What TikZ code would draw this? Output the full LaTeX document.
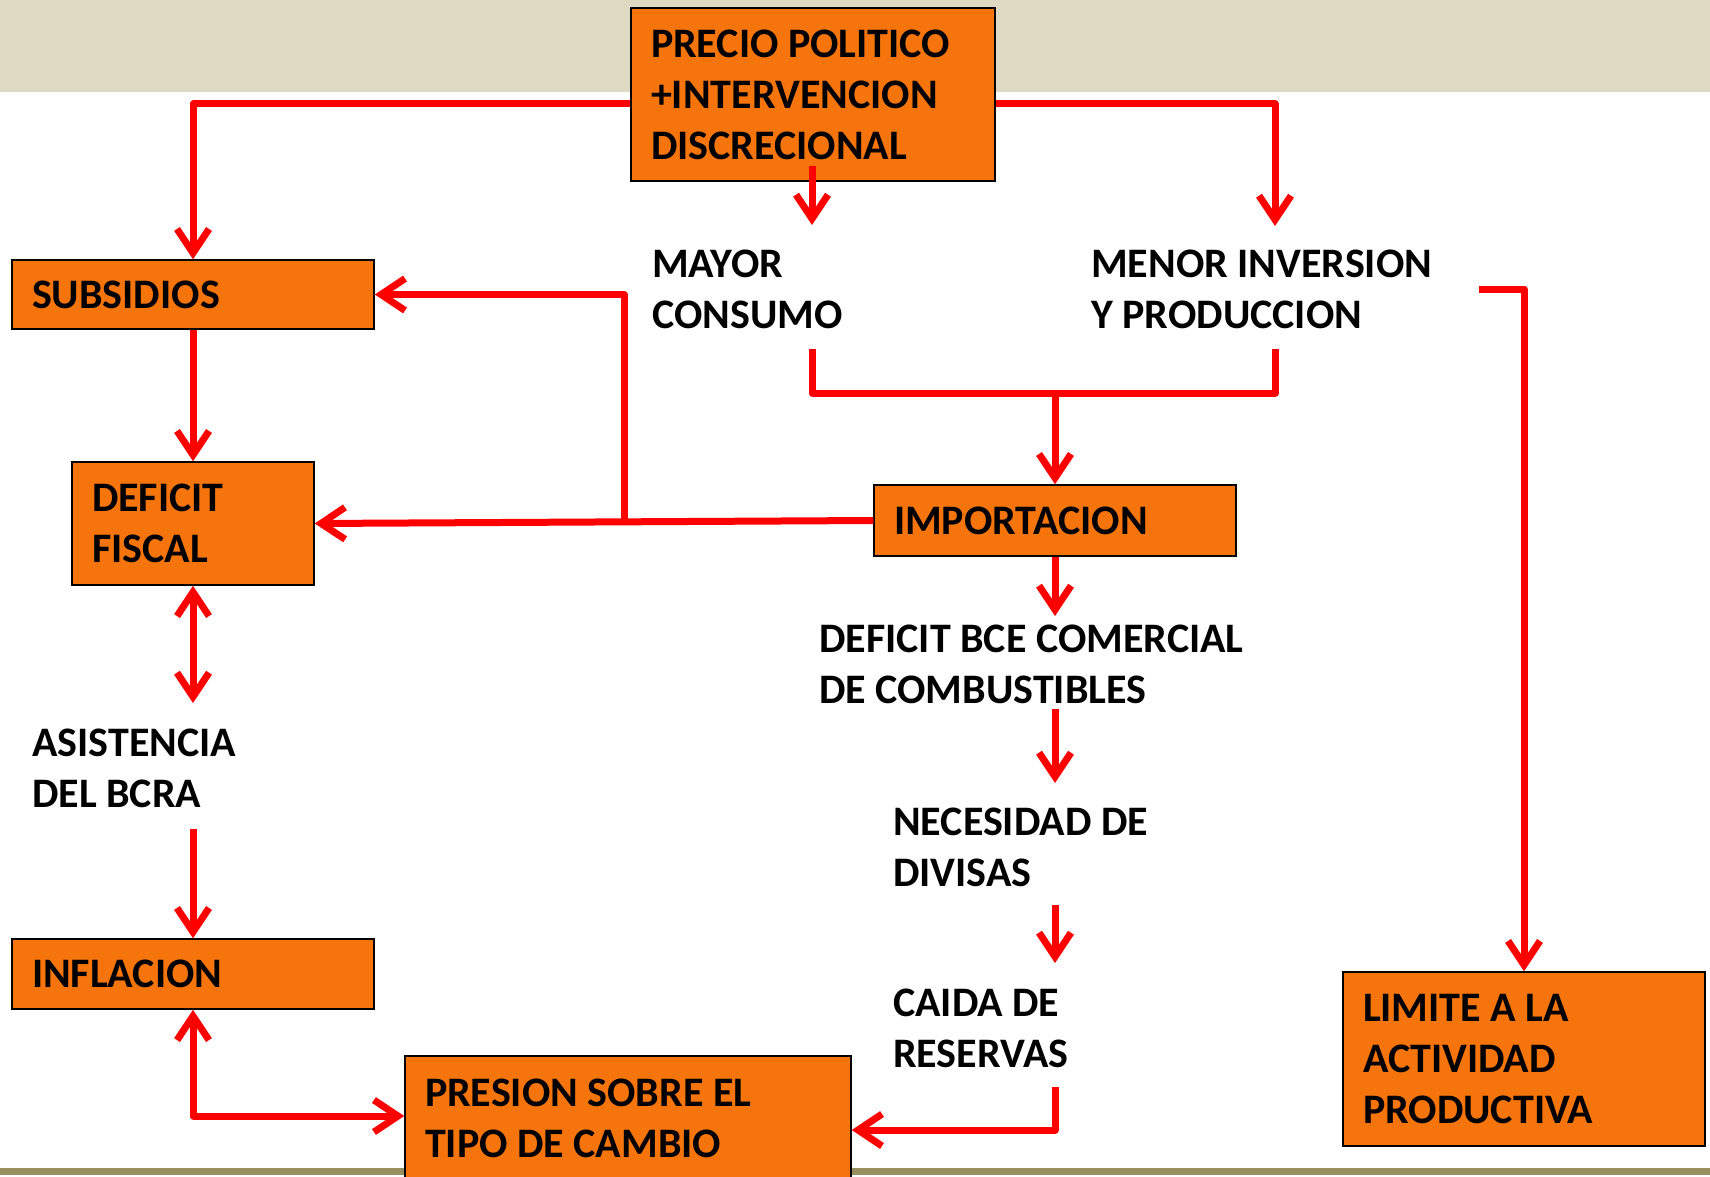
\documentclass[tikz,border=0pt]{standalone}
\usepackage{fontspec}
\setmainfont{Carlito}
\usetikzlibrary{arrows.meta}
\definecolor{boxorange}{RGB}{245,117,12}
\definecolor{bandbeige}{RGB}{221,217,195}
\definecolor{olive}{RGB}{152,144,96}
\definecolor{arrred}{RGB}{255,0,0}
\tikzset{
  box/.style={draw=black, line width=1.5pt, fill=boxorange, inner xsep=20pt, inner ysep=0pt,
    align=flush left, font=\fontsize{42}{51}\selectfont\bfseries},
  lbl/.style={inner sep=0pt, align=flush left, anchor=base west, font=\fontsize{42}{51}\selectfont\bfseries},
  conn/.style={draw=arrred, line width=7pt, line join=round},
  arr/.style={conn, -{Straight Barb[length=24pt,width=32pt]}},
  arrtwo/.style={conn, {Straight Barb[length=24pt,width=32pt]}-{Straight Barb[length=24pt,width=32pt]}}
}
\begin{document}
\begin{tikzpicture}[x=1pt,y=-1pt]
\useasboundingbox (0,0) rectangle (1710,1177);
\fill[white] (0,0) rectangle (1710,1177);
\fill[bandbeige] (0,0) rectangle (1710,92);
\fill[olive] (0,1168) rectangle (1710,1175);

% boxes
\node[box, text width=324pt, minimum height=173pt] (precio) at (813,94.5) {PRECIO POLITICO\\+INTERVENCION\\DISCRECIONAL};
\node[box, text width=322pt, minimum height=69pt] (subs) at (193,294.5) {SUBSIDIOS};
\node[box, text width=202pt, minimum height=123pt] (deficit) at (193,523.5) {DEFICIT\\FISCAL};
\node[box, text width=322pt, minimum height=71pt] (import) at (1055,520.5) {IMPORTACION};
\node[box, text width=322pt, minimum height=70pt] (infl) at (193,974) {INFLACION};
\node[box, text width=406pt, minimum height=124pt] (presion) at (628,1118) {PRESION SOBRE EL\\TIPO DE CAMBIO};
\node[box, text width=322pt, minimum height=174pt] (limite) at (1524,1059) {LIMITE A LA\\ACTIVIDAD\\PRODUCTIVA};

% plain labels (anchored at the baseline of their last line)
\node[lbl] (mayor) at (652,328) {MAYOR\\CONSUMO};
\node[lbl] (menor) at (1091,328) {MENOR INVERSION\\Y PRODUCCION};
\node[lbl] (bce) at (819,703) {DEFICIT BCE COMERCIAL\\DE COMBUSTIBLES};
\node[lbl] (neces) at (893,886) {NECESIDAD DE\\DIVISAS};
\node[lbl] (caida) at (893,1067) {CAIDA DE\\RESERVAS};
\node[lbl] (asist) at (32,807) {ASISTENCIA\\DEL BCRA};

% connector end points
\coordinate (pstart) at (812,166);
\coordinate (mayorTop) at (812,225);
\coordinate (menorTop) at (1275,226);
\coordinate (mayorBot) at (812,349);
\coordinate (menorBot) at (1275,349);
\coordinate (mid) at (1055,393);
\coordinate (br) at (624,522);
\coordinate (asistTop) at (193,703);
\coordinate (asistBot) at (193,829);
\coordinate (bceTop) at (1055,616);
\coordinate (bceBot) at (1055,709);
\coordinate (necTop) at (1055,783);
\coordinate (necBot) at (1055,905);
\coordinate (caidaTop) at (1055,963);
\coordinate (caidaBot) at (1055,1087);
\coordinate (menorR) at (1479,289);

% connectors
\draw[arr] ([yshift=-9.5pt]precio.west) -| (subs.north);
\draw[arr] ([yshift=-9.5pt]precio.east) -| (menorTop);
\draw[arr] (pstart) -- (mayorTop);
\draw[conn] (mayorBot) |- (mid) -| (menorBot);
\draw[arr] (mid) -- (import.north);
\draw[arr] (import.west) -- (deficit.east);
\draw[arr] (br) |- (subs.east);
\draw[arr] (subs.south) -- (deficit.north);
\draw[arrtwo] (deficit.south) -- (asistTop);
\draw[arr] (asistBot) -- (infl.north);
\draw[arrtwo] (infl.south) |- ([yshift=2pt]presion.west);
\draw[arr] (import.south) -- (bceTop);
\draw[arr] (bceBot) -- (necTop);
\draw[arr] (necBot) -- (caidaTop);
\draw[arr] (caidaBot) |- ([yshift=-12pt]presion.east);
\draw[arr] (menorR) -| (limite.north);
\end{tikzpicture}
\end{document}
